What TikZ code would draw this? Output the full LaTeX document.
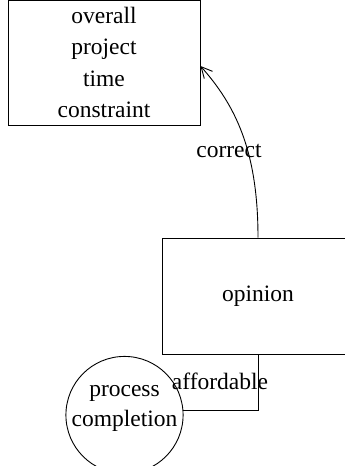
\documentclass[tikz,border=0pt]{standalone}
\usepackage{fontspec}
\setmainfont{Liberation Serif}
\usetikzlibrary{arrows.meta}
\begin{document}
\begin{tikzpicture}[x=1pt,y=-1pt,line width=0.9pt,
  box/.style={draw,rectangle,inner sep=0pt,align=center},
  blob/.style={draw,circle,inner sep=0pt,align=center},
  lbl/.style={inner sep=0pt,fill=none},
  every node/.style={font=\fontsize{23.5}{32}\selectfont}]
\useasboundingbox (0,0) rectangle (345,466);
\clip (0,0) rectangle (345,466);
\node[box,minimum width=192pt,minimum height=125pt,font=\fontsize{23.5}{31.1}\selectfont] (otc) at (104,62.5) {overall\\project\\time\\constraint};
\node[box,minimum width=192pt,minimum height=116pt] (op) at (258,296) {opinion};
\node[blob,minimum size=117pt,text height=37pt,text depth=13.6pt,font=\fontsize{23.5}{30}\selectfont] (pc) at (124.5,415) {process\\completion};
\draw[-{Straight Barb[length=11pt,width=11pt,line width=0.9pt]}] (op.north) .. controls (258,150) and (235,105) .. ([yshift=-3.5pt]otc.east);
\draw (op.south) |- (pc.4);
\node[lbl] (l1) at (229,151) {correct};
\node[lbl] (l2) at (220,381) {affordable};
\end{tikzpicture}
\end{document}
